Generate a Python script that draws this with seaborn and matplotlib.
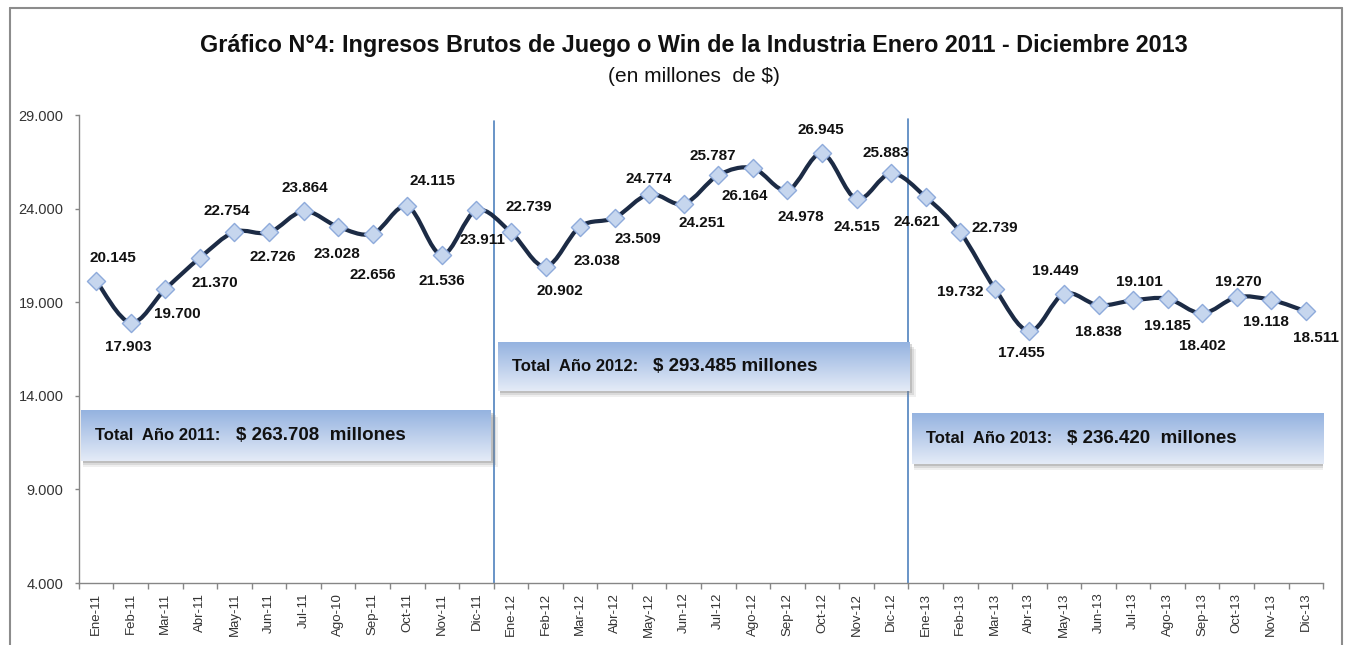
import numpy as np
import pandas as pd
import matplotlib
matplotlib.use("Agg")
import matplotlib.pyplot as plt
import seaborn as sns
from matplotlib.path import Path
from matplotlib.patches import PathPatch, Rectangle
from matplotlib.lines import Line2D
from matplotlib.colors import LinearSegmentedColormap
from matplotlib import font_manager

# --- DATOS ---
meses = ["Ene-11", "Feb-11", "Mar-11", "Abr-11", "May-11", "Jun-11",
         "Jul-11", "Ago-10", "Sep-11", "Oct-11", "Nov-11", "Dic-11",
         "Ene-12", "Feb-12", "Mar-12", "Abr-12", "May-12", "Jun-12",
         "Jul-12", "Ago-12", "Sep-12", "Oct-12", "Nov-12", "Dic-12",
         "Ene-13", "Feb-13", "Mar-13", "Abr-13", "May-13", "Jun-13",
         "Jul-13", "Ago-13", "Sep-13", "Oct-13", "Nov-13", "Dic-13"]
win_2011 = [20145, 17903, 19700, 21370, 22754, 22726, 23864, 23028, 22656, 24115, 21536, 23911]
win_2012 = [22739, 20902, 23038, 23509, 24774, 24251, 25787, 26164, 24978, 26945, 24515, 25883]
win_2013 = [24621, 22739, 19732, 17455, 19449, 18838, 19101, 19185, 18402, 19270, 19118, 18511]
anios = ["2011", "2012", "2013"]
totales = ["$ 263.708  millones", "$ 293.485 millones", "$ 236.420  millones"]
y_ticks = [4000, 9000, 14000, 19000, 24000, 29000]

# posicion de etiquetas (desplazamiento en pixeles)
offsets = [(17, 23), (-2, -24), (12, -25), (15, -25), (-8, 21), (4, -25),
           (1, 23), (-1, -27), (0, -41), (25, 25), (0, -26), (6, -30),
           (18, 25), (14, -24), (17, -34), (23, -21), (0, 15), (18, -19),
           (-6, 19), (-8, -28), (13, -27), (-1, 23), (0, -28), (-5, 20),
           (-9, -25), (35, 4), (-35, -3), (-8, -22), (-9, 23), (0, -27),
           (6, 18), (0, -27), (0, -33), (2, 15), (-5, -22), (10, -27)]

df = pd.DataFrame({"mes": meses, "win": win_2011 + win_2012 + win_2013})
df["idx"] = np.arange(len(df))

# --- ESTILO ---
sns.set_style("white")
nombres = {f.name for f in font_manager.fontManager.ttflist}
NARROW = "Liberation Sans Narrow" if "Liberation Sans Narrow" in nombres else "Liberation Sans"
plt.rcParams["font.family"] = ["Liberation Sans", "DejaVu Sans"]

fig = plt.figure(figsize=(13.47, 6.45), dpi=100)
ax = fig.add_axes([0.0586, 0.0961, 0.9237, 0.7256])

# linea suavizada (bezier tipo Excel)
x = df["idx"].to_numpy(float)
y = df["win"].to_numpy(float)
verts = [(x[0], y[0])]
codes = [Path.MOVETO]
n = len(x)
for i in range(n - 1):
    p0 = max(i - 1, 0)
    p3 = min(i + 2, n - 1)
    c1 = (x[i] + (x[i + 1] - x[p0]) / 6, y[i] + (y[i + 1] - y[p0]) / 6)
    c2 = (x[i + 1] - (x[p3] - x[i]) / 6, y[i + 1] - (y[p3] - y[i]) / 6)
    verts += [c1, c2, (x[i + 1], y[i + 1])]
    codes += [Path.CURVE4] * 3
ax.add_patch(PathPatch(Path(verts, codes), facecolor="none", edgecolor="#1c2b45",
                       lw=3, zorder=3, capstyle="round", joinstyle="round"))

sns.scatterplot(data=df, x="idx", y="win", marker="D", s=85, color="#c6d6ee",
                edgecolor="#8eaadb", linewidth=1, zorder=4, ax=ax, legend=False)

# etiquetas de datos
for (i, v), (dx, dy) in zip(enumerate(df["win"]), offsets):
    ax.annotate(f"{v:,}".replace(",", "."), (i, v), xytext=(dx, dy),
                textcoords="offset pixels", ha="center", va="center",
                fontsize=11, fontweight="bold", family=NARROW, color="#111111", zorder=5)

# lineas verticales separando años
ax.plot([11.5, 11.5], [4000, 28700], color="#4f81bd", lw=1.2, zorder=2)
ax.plot([23.5, 23.5], [4000, 28800], color="#4f81bd", lw=1.2, zorder=2)

# cuadros de totales
cmap = LinearSegmentedColormap.from_list("caja", ["#e4ebf7", "#95b3e0"])
grad = np.linspace(0, 1, 100).reshape(-1, 1)
cajas = [(-0.44, 11.42, 10531, 13208), (11.62, 23.52, 14279, 16848), (23.60, 35.5, 10370, 13047)]
px_x = 1 / 34.56
px_y = 25000 / 467
for (x0, x1, y0, y1), anio, total in zip(cajas, anios, totales):
    for k, a in zip([6, 4, 2], [0.12, 0.18, 0.3]):
        ax.add_patch(Rectangle((x0 + 2 * px_x, y0 - k * px_y), x1 - x0 + (k - 1) * px_x, y1 - y0,
                               facecolor="#7f7f7f", edgecolor="none", alpha=a, zorder=5))
    ax.imshow(grad, extent=[x0, x1, y0, y1], origin="lower", aspect="auto", cmap=cmap, zorder=6)
    ym = (y0 + y1) / 2
    ax.annotate(f"Total  Año {anio}:", (x0, ym), xytext=(14, 0), textcoords="offset pixels",
                ha="left", va="center", fontsize=12, fontweight="bold", family=NARROW,
                color="#111111", zorder=7)
    ax.annotate(total, (x0, ym), xytext=(155, 0), textcoords="offset pixels",
                ha="left", va="center", fontsize=13.5, fontweight="bold", family=NARROW,
                color="#111111", zorder=7)

# ejes
ax.set_xlim(-0.5, 35.5)
ax.set_ylim(4000, 29000)
ax.set_yticks(y_ticks)
ax.set_yticklabels([f"{t:,}".replace(",", ".") for t in y_ticks], family=NARROW)
ax.set_xticks(range(len(meses)))
ax.set_xticklabels(meses, rotation=90)
ax.set_xticks(np.arange(-0.5, 36, 1), minor=True)
ax.tick_params(axis="y", length=3, width=1, color="#868686", labelsize=10.5,
               labelcolor="#333333", pad=8, left=True)
ax.tick_params(axis="x", which="major", length=0, labelsize=9.5, labelcolor="#333333", pad=7)
ax.tick_params(axis="x", which="minor", length=4, width=1, color="#868686", bottom=True)
ax.set_xlabel("")
ax.set_ylabel("")
for s in ["top", "right"]:
    ax.spines[s].set_visible(False)
for s in ["left", "bottom"]:
    ax.spines[s].set_color("#868686")
    ax.spines[s].set_linewidth(1)

# titulos
fig.text(0.515, 0.929, "Gráfico N°4: Ingresos Brutos de Juego o Win de la Industria Enero 2011 - Diciembre 2013",
         ha="center", va="center", fontsize=16.8, fontweight="bold", family=NARROW, color="#111111")
fig.text(0.515, 0.881, "(en millones  de $)", ha="center", va="center", fontsize=15,
         family=NARROW, color="#111111")

# marco exterior
borde = dict(color="#8c8c8c", lw=1.5, transform=fig.transFigure)
fig.add_artist(Line2D([0.0074, 0.0074], [0, 0.9876], **borde))
fig.add_artist(Line2D([0.0074, 0.9963], [0.9876, 0.9876], **borde))
fig.add_artist(Line2D([0.9963, 0.9963], [0, 0.9876], **borde))

fig.savefig("out.png", dpi=100)
plt.close(fig)
